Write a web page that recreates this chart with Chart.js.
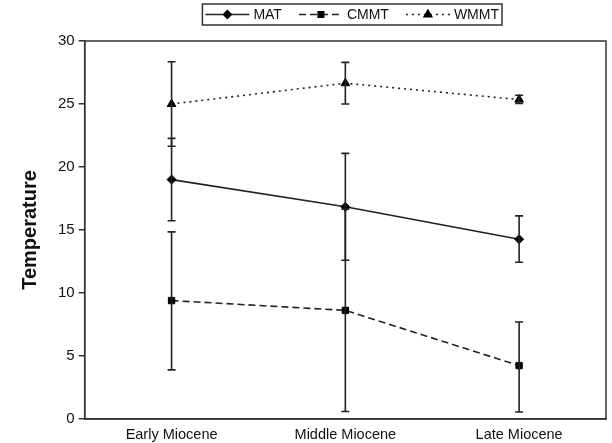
<!DOCTYPE html>
<html>
<head>
<meta charset="utf-8">
<script src="https://cdn.jsdelivr.net/npm/chart.js@4.4.1/dist/chart.umd.min.js"></script>
<style>
  html, body { margin: 0; padding: 0; background: #fff; }
  #wrap { width: 612px; height: 443px; position: relative; }
</style>
</head>
<body>
<div id="wrap"><canvas id="c" width="612" height="443"></canvas></div>
<script>
// Miocene temperature estimates (°C) with ranges
const periods = ['Early Miocene', 'Middle Miocene', 'Late Miocene'];
const yTicks = [0, 5, 10, 15, 20, 25, 30];

const matMean  = [19.0, 16.84, 14.27];
const matLow   = [15.73, 12.6, 12.44];
const matHigh  = [22.27, 21.08, 16.12];

const cmmtMean = [9.4, 8.62, 4.24];
const cmmtLow  = [3.9, 0.6, 0.55];
const cmmtHigh = [14.85, 16.66, 7.7];

const wmmtMean = [25.0, 26.65, 25.35];
const wmmtLow  = [21.65, 25.0, 25.05];
const wmmtHigh = [28.35, 28.3, 25.7];

const INK = '#222';
const FONT = '"Liberation Sans", Arial, Helvetica, sans-serif';

// Vertical range bars with caps, drawn through the chart's scales
const errorBars = {
  id: 'errorBars',
  afterDatasetsDraw(chart) {
    const { ctx, scales: { x, y } } = chart;
    ctx.save();
    ctx.strokeStyle = INK;
    ctx.lineWidth = 1.6;
    ctx.setLineDash([]);
    chart.data.datasets.forEach(ds => {
      ds.data.forEach((v, i) => {
        const px = x.getPixelForValue(i);
        const yl = y.getPixelForValue(ds.low[i]);
        const yh = y.getPixelForValue(ds.high[i]);
        ctx.beginPath();
        ctx.moveTo(px, yl); ctx.lineTo(px, yh);
        ctx.moveTo(px - 4, yl); ctx.lineTo(px + 4, yl);
        ctx.moveTo(px - 4, yh); ctx.lineTo(px + 4, yh);
        ctx.stroke();
      });
    });
    ctx.restore();
  }
};

// Closed frame around the plot area
const frame = {
  id: 'frame',
  afterDraw(chart) {
    const { ctx, chartArea: a } = chart;
    ctx.save();
    ctx.strokeStyle = '#333';
    ctx.lineWidth = 1.5;
    ctx.strokeRect(a.left, a.top, a.right - a.left, a.bottom - a.top);
    ctx.restore();
  }
};

// Boxed legend at the top: line sample with marker, then label
const boxLegend = {
  id: 'boxLegend',
  afterDraw(chart) {
    const { ctx } = chart;
    const items = chart.data.datasets;
    ctx.save();
    ctx.font = '14px ' + FONT;
    const sample = 44, gapText = 4, gapItem = 17, pad = 3;
    let total = 0;
    const widths = items.map(d => ctx.measureText(d.label).width);
    widths.forEach((w, i) => { total += sample + gapText + w + (i ? gapItem : 0); });
    const right = 502;
    const left = right - pad - total - pad;
    const top = 4, h = 21, cy = top + h / 2;
    ctx.fillStyle = '#fff';
    ctx.fillRect(left, top, right - left, h);
    ctx.strokeStyle = '#333';
    ctx.lineWidth = 1.5;
    ctx.strokeRect(left, top, right - left, h);
    let xPos = left + pad;
    items.forEach((d, i) => {
      if (i) xPos += gapItem;
      ctx.strokeStyle = INK;
      ctx.lineWidth = 1.4;
      ctx.setLineDash(d.borderDash || []);
      ctx.beginPath();
      ctx.moveTo(xPos, cy); ctx.lineTo(xPos + sample, cy);
      ctx.stroke();
      ctx.setLineDash([]);
      ctx.fillStyle = '#000';
      ctx.strokeStyle = '#000';
      Chart.helpers.drawPoint(ctx, {
        pointStyle: d.pointStyle, radius: d.pointRadius - 0.5, rotation: 0, borderWidth: 1
      }, xPos + sample / 2, cy);
      ctx.fillStyle = '#111';
      ctx.textBaseline = 'middle';
      ctx.textAlign = 'left';
      ctx.fillText(d.label, xPos + sample + gapText, cy + 1);
      xPos += sample + gapText + widths[i];
    });
    ctx.restore();
  }
};

const common = {
  borderColor: INK,
  backgroundColor: INK,
  pointBackgroundColor: '#000',
  pointBorderColor: '#000',
  borderWidth: 1.6,
  pointBorderWidth: 1,
  tension: 0,
  fill: false
};

new Chart(document.getElementById('c'), {
  type: 'line',
  data: {
    labels: periods,
    datasets: [
      Object.assign({}, common, { label: 'MAT', data: matMean, low: matLow, high: matHigh,
        pointStyle: 'rectRot', pointRadius: 4.5 }),
      Object.assign({}, common, { label: 'CMMT', data: cmmtMean, low: cmmtLow, high: cmmtHigh,
        pointStyle: 'rect', pointRadius: 4.5, borderDash: [7, 4] }),
      Object.assign({}, common, { label: 'WMMT', data: wmmtMean, low: wmmtLow, high: wmmtHigh,
        pointStyle: 'triangle', pointRadius: 5, borderDash: [2, 4] })
    ]
  },
  options: {
    responsive: false,
    animation: false,
    devicePixelRatio: 1,
    layout: { padding: { top: 41, right: 3, bottom: 0, left: 18 } },
    plugins: { legend: { display: false }, tooltip: { enabled: false } },
    scales: {
      x: {
        type: 'category',
        offset: true,
        afterFit(scale) { scale.height = 24; },
        grid: { display: false, drawTicks: false },
        border: { display: true, color: '#333', width: 1.5 },
        ticks: { color: '#111', font: { family: FONT, size: 14.5 }, padding: 7, maxRotation: 0 }
      },
      y: {
        min: 0, max: 30,
        afterBuildTicks(scale) { scale.ticks = yTicks.map(v => ({ value: v })); },
        grid: { display: true, drawOnChartArea: false, drawTicks: true, tickLength: 6, color: '#333', lineWidth: 1.5 },
        border: { display: true, color: '#333', width: 1.5 },
        ticks: { color: '#111', font: { family: FONT, size: 15 }, padding: 4 },
        title: { display: true, text: 'Temperature', color: '#111',
          font: { family: FONT, size: 20, weight: 'bold' }, padding: { top: 0, bottom: 12 } }
      }
    }
  },
  plugins: [errorBars, frame, boxLegend]
});
</script>
</body>
</html>
